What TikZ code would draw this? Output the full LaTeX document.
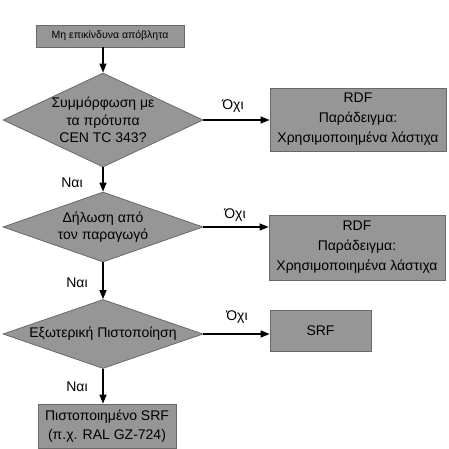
\documentclass[tikz,border=0pt]{standalone}
\usepackage{fontspec}
\setmainfont{Liberation Sans}
\usetikzlibrary{arrows.meta}
\usetikzlibrary{shapes.geometric,calc}

\definecolor{boxgray}{RGB}{150,150,150}
\definecolor{edgegray}{RGB}{105,105,105}

\begin{document}
\begin{tikzpicture}[x=1pt,y=-1pt,
	box/.style={draw=edgegray, line width=0.8pt, fill=boxgray, inner sep=0pt, align=center},
	dia/.style={diamond, draw=edgegray, line width=0.8pt, fill=boxgray, inner sep=0pt},
	txt/.style={align=center, font=\fontsize{14}{17.5}\selectfont},
	arr/.style={line width=1.3pt, -{Triangle[length=9pt,width=7pt]}},
	lbl/.style={font=\fontsize{14}{17}\selectfont}]

		\useasboundingbox (0,0) rectangle (449,449);

		\coordinate (S) at (110,36) ;
		\coordinate (A) at (103,120) ;
		\coordinate (B) at (103,227) ;
		\coordinate (C) at (103,334) ;
		\coordinate (P) at (107,426) ;
		
		\draw (S) node [box, minimum width=148pt, minimum height=22pt, font=\fontsize{10.5}{12}\selectfont] (start) {Μη επικίνδυνα απόβλητα} ;
		
		\draw (A) node [dia, minimum width=200pt, minimum height=94pt] (qa) {} ;
		\draw (B) node [dia, minimum width=200pt, minimum height=70pt] (qb) {} ;
		\draw (C) node [dia, minimum width=200pt, minimum height=69pt] (qc) {} ;
		
		\draw (qa) node [txt] (ta) {Συμμόρφωση με\\τα πρότυπα\\CEN TC 343?} ;
		\draw (qb) node [txt] (tb) {Δήλωση από\\τον παραγωγό} ;
		\draw (qc) node [txt] (tc) {Εξωτερική Πιστοποίηση} ;
		
		\draw (358,119.5) node [box, minimum width=176pt, minimum height=63pt, font=\fontsize{14}{20}\selectfont] (rdfa) {RDF\\Παράδειγμα:\\Χρησιμοποιημένα λάστιχα} ;
		\draw (357,247.5) node [box, minimum width=176pt, minimum height=65pt, font=\fontsize{14}{20}\selectfont] (rdfb) {RDF\\Παράδειγμα:\\Χρησιμοποιημένα λάστιχα} ;
		\draw (320.5,330.5) node [box, minimum width=101pt, minimum height=41pt, font=\fontsize{14}{17}\selectfont] (srf) {SRF} ;
		\draw (P) node [box, minimum width=138pt, minimum height=44pt, font=\fontsize{14}{19}\selectfont] (cert) {Πιστοποιημένο SRF\\(π.χ. RAL GZ-724)} ;
		
		\draw [arr] (start.south -| qa.north) -- (qa.north);
		\draw [arr] (qa.south) -- (qb.north);
		\draw [arr] (qb.south) -- (qc.north);
		\draw [arr] (qc.south) -- (qc.south |- cert.north);
		
		\draw [arr] (qa.east) -- (qa.east -| rdfa.west);
		\draw [arr] (qb.east) -- (qb.east -| rdfb.west);
		\draw [arr] (qc.east) -- (qc.east -| srf.west);
		
		\draw (72,183) node [lbl] (ya) {Ναι} ;
		\draw (77,283) node [lbl] (yb) {Ναι} ;
		\draw (77,387) node [lbl] (yc) {Ναι} ;
		\draw (233,106) node [lbl] (na) {Όχι} ;
		\draw (235,215) node [lbl] (nb) {Όχι} ;
		\draw (237,317) node [lbl] (nc) {Όχι} ;
		
\end{tikzpicture}
\end{document}
